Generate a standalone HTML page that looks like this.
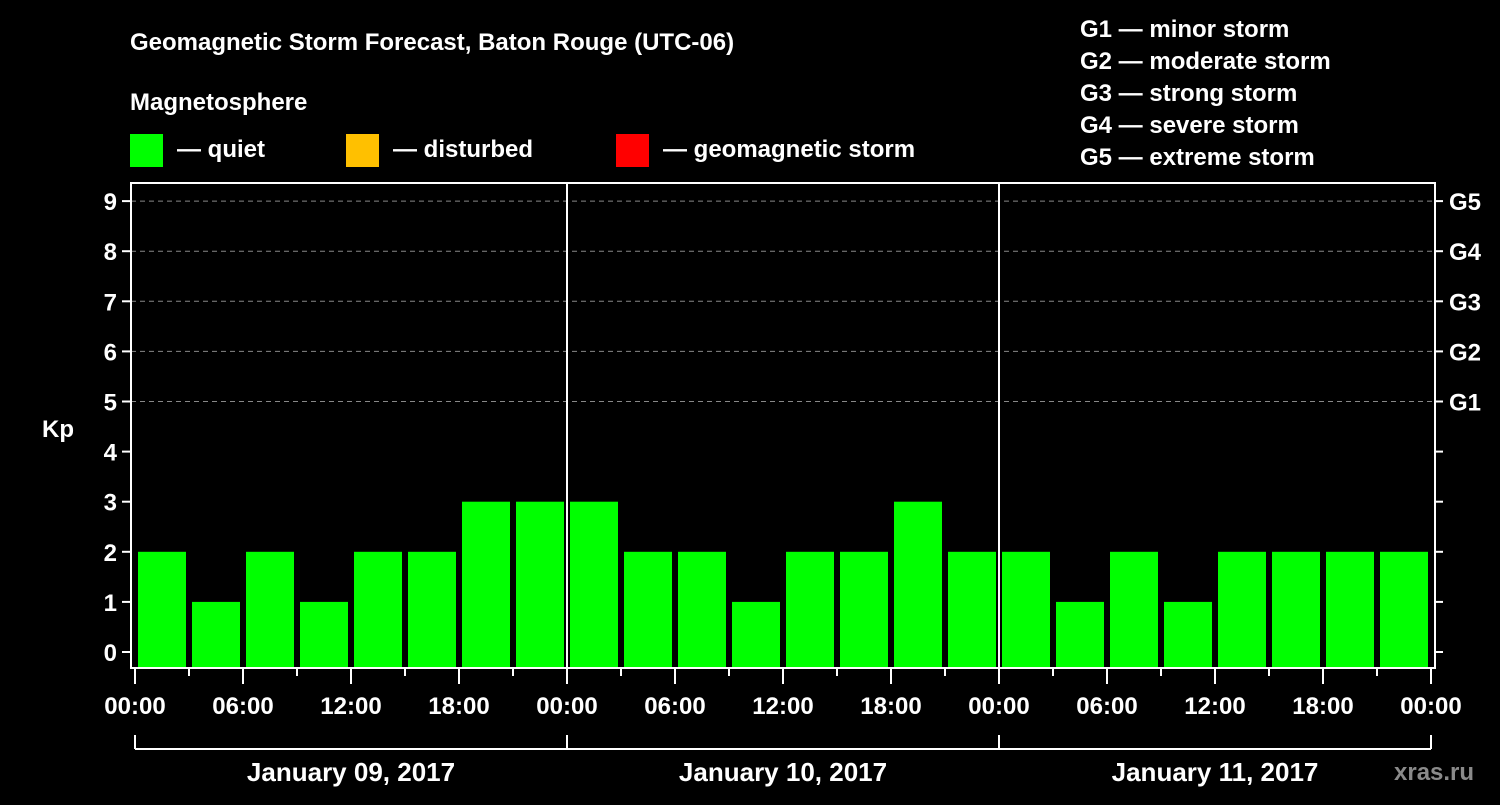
<!DOCTYPE html>
<html><head><meta charset="utf-8"><style>
body{margin:0;background:#000;width:1500px;height:800px;overflow:hidden}
svg text{font-family:"Liberation Sans",sans-serif;font-weight:bold;fill:#fff}
</style></head><body>
<svg id="c" width="1500" height="800" xmlns="http://www.w3.org/2000/svg">
<rect width="1500" height="800" fill="#000"/>
<text x="130" y="50" font-size="24">Geomagnetic Storm Forecast, Baton Rouge (UTC-06)</text>
<text x="130" y="110" font-size="24">Magnetosphere</text>
<g><rect x="130" y="134" width="33" height="33" fill="#00ff00"/><text x="177" y="157" font-size="24">— quiet</text></g>
<g><rect x="346" y="134" width="33" height="33" fill="#ffc000"/><text x="393" y="157" font-size="24">— disturbed</text></g>
<g><rect x="616" y="134" width="33" height="33" fill="#ff0000"/><text x="663" y="157" font-size="24">— geomagnetic storm</text></g>
<g font-size="24">
<text x="1080" y="37">G1 — minor storm</text>
<text x="1080" y="69">G2 — moderate storm</text>
<text x="1080" y="101">G3 — strong storm</text>
<text x="1080" y="133">G4 — severe storm</text>
<text x="1080" y="165">G5 — extreme storm</text>
</g>
<text x="42" y="437" font-size="24">Kp</text>
<text x="1394" y="780" font-size="24" fill="#888" style="fill:#8a8a8a">xras.ru</text>
<g id="grid"></g><g id="bars"></g><g id="axes"></g>
</svg>
<script>
const kpValues=[2,1,2,1,2,2,3,3, 3,2,2,1,2,2,3,2, 2,1,2,1,2,2,2,2];
const yTicks=[0,1,2,3,4,5,6,7,8,9];
const gLabels=["G1","G2","G3","G4","G5"];
const hourLabels=["00:00","06:00","12:00","18:00"];
const dayLabels=["January 09, 2017","January 10, 2017","January 11, 2017"];
const NS="http://www.w3.org/2000/svg";
const X0=135,DAYW=432,Y0=652,YU=50.1,BOT=668,TOP=183,L=131,R=1435;
const x=h=>X0+h*DAYW/24;
const y=v=>Y0-v*YU;
function mk(p,t,a){const e=document.createElementNS(NS,t);for(const k in a)e.setAttribute(k,a[k]);p.appendChild(e);return e;}
const grid=document.getElementById('grid'),bars=document.getElementById('bars'),ax=document.getElementById('axes');
yTicks.forEach(v=>{
 if(v>=5){const l=mk(grid,'line',{x1:L,x2:R,y1:y(v),y2:y(v),stroke:'#888','stroke-width':1,'stroke-dasharray':'5,4'});
 
 }
 mk(ax,'line',{x1:L-9,x2:L,y1:y(v),y2:y(v),stroke:'#fff','stroke-width':2});
 mk(ax,'line',{x1:R,x2:R+8,y1:y(v),y2:y(v),stroke:'#fff','stroke-width':2});
 const t=mk(ax,'text',{x:L-14,y:y(v)+9,'font-size':24,'text-anchor':'end'});t.textContent=v;
 
 
});
gLabels.forEach((g,i)=>{const t=mk(ax,'text',{x:1449,y:y(5+i)+9,'font-size':24});t.textContent=g;
 
 });
kpValues.forEach((v,i)=>{
 const col=v>=5?'#ff0000':(v>=4?'#ffc000':'#00ff00');
 const r=mk(bars,'rect',{x:x(i*3)+3,y:y(v),width:48,height:BOT-y(v),fill:col});
 
 
});
mk(ax,'rect',{x:L,y:TOP,width:R-L,height:BOT-TOP,fill:'none',stroke:'#fff','stroke-width':2});
for(let d=1;d<3;d++)mk(ax,'line',{x1:x(d*24),x2:x(d*24),y1:TOP,y2:BOT,stroke:'#fff','stroke-width':2});
for(let h=0;h<=72;h+=3){mk(ax,'line',{x1:x(h),x2:x(h),y1:BOT,y2:BOT+(h%6?8:16),stroke:'#fff','stroke-width':2});}
for(let h=0;h<=72;h+=6){const t=mk(ax,'text',{x:x(h),y:714,'font-size':24,'text-anchor':'middle'});t.textContent=hourLabels[(h/6)%4];
 
 }
mk(ax,'line',{x1:x(0),x2:x(72),y1:749,y2:749,stroke:'#fff','stroke-width':2});
for(let d=0;d<=3;d++)mk(ax,'line',{x1:x(d*24),x2:x(d*24),y1:735,y2:749,stroke:'#fff','stroke-width':2});
dayLabels.forEach((s,i)=>{const t=mk(ax,'text',{x:x(i*24+12),y:781,'font-size':26,'text-anchor':'middle'});t.textContent=s;
 
 });
</script>
</body></html>
